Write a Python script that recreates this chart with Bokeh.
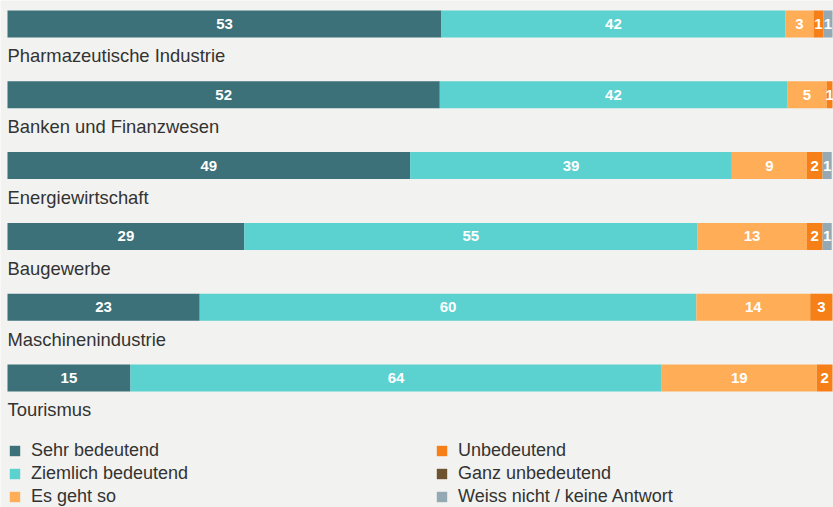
from bokeh.plotting import figure
from bokeh.models import ColumnDataSource, Range1d, Legend, LegendItem
from bokeh.core.properties import value
from bokeh.embed import file_html
from bokeh.resources import INLINE

categories = ["Pharmazeutische Industrie", "Banken und Finanzwesen", "Energiewirtschaft",
              "Baugewerbe", "Maschinenindustrie", "Tourismus"]
series = ["Sehr bedeutend", "Ziemlich bedeutend", "Es geht so", "Unbedeutend",
          "Ganz unbedeutend", "Weiss nicht / keine Antwort"]
# shares in percent (printed labels are these values rounded)
sehr_bedeutend = [52.6, 52.4, 48.8, 28.7, 23.3, 14.9]
ziemlich_bedeutend = [41.7, 42.1, 39.0, 54.9, 60.2, 64.4]
es_geht_so = [3.4, 4.8, 9.1, 13.3, 13.8, 18.8]
unbedeutend = [1.2, 0.7, 1.9, 1.9, 2.7, 1.9]
ganz_unbedeutend = [0, 0, 0, 0, 0, 0]
weiss_nicht = [1.1, 0, 1.1, 1.1, 0, 0]
colors = ["#3d717a", "#5bd1d0", "#ffae57", "#f77f17", "#6e5330", "#95a9b4"]

values = [sehr_bedeutend, ziemlich_bedeutend, es_geht_so, unbedeutend, ganz_unbedeutend, weiss_nicht]
keys = ["s%d" % i for i in range(len(series))]
ypos = list(range(len(categories)))

data = {"y": ypos, "cat": categories}
for k, v in zip(keys, values):
    data[k] = v
source = ColumnDataSource(data)

W, H = 833, 507
p = figure(width=W, height=H, output_backend="svg", toolbar_location=None,
           x_range=Range1d(-0.848, 100.121), y_range=Range1d(6.829, -0.332),
           min_border=0, outline_line_color=None,
           background_fill_color="#f2f2f0", border_fill_color="#f2f2f0")
p.axis.visible = False
p.grid.visible = False

renderers = p.hbar_stack(keys, y="y", height=0.381, color=colors, source=source, line_width=0)

# segment value labels
lx, ly, lt = [], [], []
for i in ypos:
    cum = 0
    for v in values:
        val = v[i]
        if val > 0:
            lx.append(cum + val / 2)
            ly.append(i)
            lt.append(str(int(val + 0.5)))
        cum += val
p.text(x=lx, y=ly, text=lt, text_align="center", text_baseline="middle",
       text_color="white", text_font=value("Liberation Sans"), text_font_style="bold",
       text_font_size="15px")

# category labels below bars
p.text(x=[0] * len(categories), y=[i + 0.45 for i in ypos], text=categories,
       text_align="left", text_baseline="alphabetic", text_color="#333333",
       text_font=value("Liberation Sans"), text_font_size="18.4px")

def make_legend(idx, loc):
    items = [LegendItem(label=series[j], renderers=[renderers[j]]) for j in idx]
    lg = Legend(items=items, location=loc, orientation="vertical",
                glyph_width=13, glyph_height=13, label_standoff=10, spacing=2,
                label_height=20, padding=0, margin=0, border_line_color=None,
                background_fill_alpha=0, label_text_font="Liberation Sans",
                label_text_font_size="18px", label_text_color="#333333")
    p.add_layout(lg)

make_legend([0, 1, 2], (8, 0))
make_legend([3, 4, 5], (435, 0))

open("out.html", "w").write(file_html(p, INLINE))
